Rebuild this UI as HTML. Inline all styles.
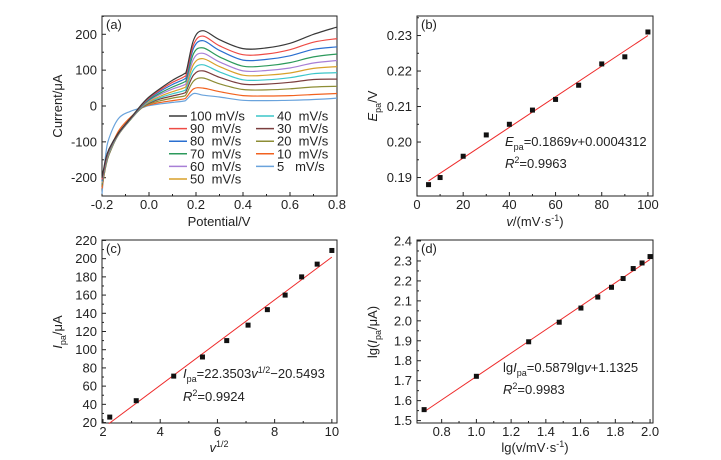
<!DOCTYPE html>
<html><head><meta charset="utf-8"><style>
html,body{margin:0;padding:0;background:#fff;}
svg{display:block;font-family:"Liberation Sans",Arial,sans-serif;}
</style></head><body>
<svg id="fig" width="721" height="460" viewBox="0 0 721 460" xmlns="http://www.w3.org/2000/svg"></svg>
<script>
// ---- Panel (a) data: CV curves ----
const cvPotentials = [-0.2,-0.185,-0.17,-0.13,-0.08,-0.03,0,0.05,0.1,0.15,0.16,0.19,0.23,0.3,0.4,0.5,0.6,0.7,0.8];
const cvLabels = ["100 mV/s","90  mV/s","80  mV/s","70  mV/s","60  mV/s","50  mV/s","40  mV/s","30  mV/s","20  mV/s","10  mV/s","5   mV/s"];
const cvColors = ["#3a3a3a","#ee4b45","#2a6fd0","#2c9a5c","#a87fd6","#d8a12a","#3cc6c9","#7b3e3e","#8d8d35","#f2621f","#6aa3dc"];
const cv100 = [-200,-150,-120,-75,-35,5,25,50,72,90,100,185,210,185,160,162,175,200,220];
const cv90  = [-205,-155,-122,-76,-36,3,22,46,66,82,92,172,195,168,143,145,157,178,188];
const cv80  = [-208,-158,-124,-77,-37,2,20,42,60,75,85,162,182,155,128,130,140,158,165];
const cv70  = [-210,-160,-126,-78,-38,0,17,37,53,67,76,147,162,137,111,112,121,137,145];
const cv60  = [-212,-162,-128,-79,-38,-1,15,33,47,59,68,132,147,123,98,99,106,120,127];
const cv50  = [-214,-164,-130,-80,-39,-2,12,28,40,51,60,117,132,110,86,86,92,105,110];
const cv40  = [-216,-166,-132,-80,-39,-3,10,24,34,43,52,102,115,95,73,73,79,90,93];
const cv30  = [-218,-168,-134,-80,-39,-4,8,20,28,36,44,87,98,80,61,61,66,74,75];
const cv20  = [-222,-172,-136,-79,-38,-5,6,15,22,28,35,70,78,62,46,45,48,53,55];
const cv10  = [-230,-170,-130,-70,-32,-5,3,10,15,20,25,48,50,40,29,28,29,32,35];
const cv5   = [-245,-140,-90,-35,-15,-5,1,6,10,14,18,35,30,25,16,15,16,18,22];
const cvSeries = [cv100,cv90,cv80,cv70,cv60,cv50,cv40,cv30,cv20,cv10,cv5];
// ---- Panel (b) ----
const scanRates = [5,10,20,30,40,50,60,70,80,90,100];
const peakPotentials = [0.188,0.190,0.196,0.202,0.205,0.209,0.212,0.216,0.222,0.224,0.231];
// ---- Panel (c) ----
const sqrtRates = [2.236,3.162,4.472,5.477,6.325,7.071,7.746,8.367,8.944,9.487,10];
const peakCurrents = [26,44,71,92,110,127,144,160,180,194,209];
// ---- Panel (d) ----
const logRates = [0.699,1.0,1.301,1.477,1.602,1.699,1.778,1.845,1.903,1.954,2.0];
const logCurrents = [1.555,1.722,1.895,1.993,2.064,2.119,2.168,2.212,2.262,2.290,2.322];
// tick labels
const ticksAx = ["-0.2","0.0","0.2","0.4","0.6","0.8"];
const ticksAy = ["-200","-100","0","100","200"];
const ticksBx = ["0","20","40","60","80","100"];
const ticksBy = ["0.19","0.20","0.21","0.22","0.23"];
const ticksCx = ["2","4","6","8","10"];
const ticksCy = ["20","40","60","80","100","120","140","160","180","200","220"];
const ticksDx = ["0.8","1.0","1.2","1.4","1.6","1.8","2.0"];
const ticksDy = ["1.5","1.6","1.7","1.8","1.9","2.0","2.1","2.2","2.3","2.4"];

const NS="http://www.w3.org/2000/svg";
const svg=document.getElementById('fig');
function mk(tag,attrs,parent){const e=document.createElementNS(NS,tag);for(const k in attrs)e.setAttribute(k,attrs[k]);(parent||svg).appendChild(e);return e;}
function lin(d0,d1,r0,r1){return v=>r0+(v-d0)*(r1-r0)/(d1-d0);}
function fit(xs,ys){const n=xs.length;let sx=0,sy=0,sxx=0,sxy=0;for(let i=0;i<n;i++){sx+=xs[i];sy+=ys[i];sxx+=xs[i]*xs[i];sxy+=xs[i]*ys[i];}const m=(n*sxy-sx*sy)/(n*sxx-sx*sx);return [m,(sy-m*sx)/n];}
function smooth(pts){
  let d='M'+pts[0][0].toFixed(1)+','+pts[0][1].toFixed(1);
  for(let i=0;i<pts.length-1;i++){
    const p0=pts[Math.max(0,i-1)],p1=pts[i],p2=pts[i+1],p3=pts[Math.min(pts.length-1,i+2)];
    const c1=[p1[0]+(p2[0]-p0[0])/6,p1[1]+(p2[1]-p0[1])/6];
    const c2=[p2[0]-(p3[0]-p1[0])/6,p2[1]-(p3[1]-p1[1])/6];
    d+=' C'+c1[0].toFixed(1)+','+c1[1].toFixed(1)+' '+c2[0].toFixed(1)+','+c2[1].toFixed(1)+' '+p2[0].toFixed(1)+','+p2[1].toFixed(1);
  }
  return d;
}

function panel(name,box,xd,yd,xt,yt,xminor,yminor){
  const g=mk('g',{});
  
  
  const X=lin(xd[0],xd[1],box.x0,box.x1), Y=lin(yd[0],yd[1],box.y1,box.y0);
  const ax=mk('g',{},g);
  
  
  mk('rect',{x:box.x0,y:box.y0,width:box.x1-box.x0,height:box.y1-box.y0,fill:'none',stroke:'#222','stroke-width':1},ax);
  xt.forEach(t=>{const v=parseFloat(t),px=X(v);
    mk('line',{x1:px,x2:px,y1:box.y1,y2:box.y1-4,stroke:'#222'},ax);
    const tx=mk('text',{x:px,y:box.y1+13,'text-anchor':'middle','font-size':13,fill:'#222'},ax);tx.textContent=t;
    
    
    const mv=v+xminor; if(mv<xd[1]){const mp=X(mv);mk('line',{x1:mp,x2:mp,y1:box.y1,y2:box.y1-2,stroke:'#222'},ax);}
  });
  yt.forEach(t=>{const v=parseFloat(t),py=Y(v);
    mk('line',{x1:box.x0,x2:box.x0+4,y1:py,y2:py,stroke:'#222'},ax);
    const tx=mk('text',{x:box.x0-5,y:py+4.5,'text-anchor':'end','font-size':13,fill:'#222'},ax);tx.textContent=t;
    
    
    const mv=v+yminor; if(mv<yd[1]){const mp=Y(mv);mk('line',{x1:box.x0,x2:box.x0+2,y1:mp,y2:mp,stroke:'#222'},ax);}
  });
  return {g,X,Y};
}
function label(parent,html,x,y,name,rot,anchor){
  const t=mk('text',{x:x,y:y,'font-size':13,fill:'#222','text-anchor':anchor||'middle'},parent);
  if(rot)t.setAttribute('transform','rotate(-90 '+x+' '+y+')');
  t.innerHTML=html;
  
  
  return t;
}
function scatterFit(p,xs,ys,x0,x1){
  const [m,b]=fit(xs,ys);
  const l=mk('line',{x1:p.X(x0),y1:p.Y(m*x0+b),x2:p.X(x1),y2:p.Y(m*x1+b),stroke:'#ee2b2b','stroke-width':1},p.g);
  
  
  xs.forEach((x,i)=>{const r=mk('rect',{x:p.X(x)-2.5,y:p.Y(ys[i])-2.5,width:5,height:5,fill:'#111'},p.g);
    
    });
}

// Panel a
const pa=panel('panel-a-cv',{x0:102,x1:337,y0:16,y1:196},[-0.2,0.8],[-251,251],ticksAx,ticksAy,0.1,50);
cvSeries.slice().reverse().forEach((s,rk)=>{
  const k=cvSeries.length-1-rk;
  const pts=s.map((v,i)=>[pa.X(cvPotentials[i]),pa.Y(v)]);
  const p=mk('path',{d:smooth(pts),fill:'none',stroke:cvColors[k],'stroke-width':1.2,'stroke-linejoin':'round'},pa.g);
  
  
});
cvLabels.forEach((lb,k)=>{
  const col=k<6?0:1,row=k<6?k:k-6;
  const lx=col?256:169, ly=116+row*12.6;
  const lg=mk('g',{},pa.g);
  
  
  mk('line',{x1:lx,x2:lx+18,y1:ly,y2:ly,stroke:cvColors[k],'stroke-width':1.5},lg);
  const t=mk('text',{x:lx+21,y:ly+4.5,'font-size':13,fill:'#222'},lg);
  t.style.whiteSpace='pre';t.textContent=lb;
});
label(pa.g,'(a)',106,29,'panel-label',false,'start');
label(pa.g,'Potential/V',219,226,'x-axis-title');
label(pa.g,'Current/μA',62,106,'y-axis-title',true);

// Panel b
const pb=panel('panel-b',{x0:417,x1:653,y0:16,y1:196},[0,102.2],[0.1848,0.2355],ticksBx,ticksBy,10,0.005);
scatterFit(pb,scanRates,peakPotentials,5,100);
label(pb.g,'(b)',421,29,'panel-label',false,'start');
label(pb.g,'<tspan font-style="italic">E</tspan><tspan font-size="9" dy="4">pa</tspan><tspan dy="-4">=0.1869</tspan><tspan font-style="italic">v</tspan>+0.0004312',505,146,'equation',false,'start');
label(pb.g,'<tspan font-style="italic">R</tspan><tspan font-size="9" dy="-5">2</tspan><tspan dy="5">=0.9963</tspan>',505,168,'r-squared',false,'start');
label(pb.g,'<tspan font-style="italic">v</tspan>/(mV·s<tspan font-size="9" dy="-5">-1</tspan><tspan dy="5">)</tspan>',535,226,'x-axis-title');
label(pb.g,'<tspan font-style="italic">E</tspan><tspan font-size="9" dy="4">pa</tspan><tspan dy="-4">/V</tspan>',377,106,'y-axis-title',true);

// Panel c
const pc=panel('panel-c',{x0:102,x1:337,y0:240,y1:423},[1.965,10.18],[19.5,220.5],ticksCx,ticksCy,1,10);
scatterFit(pc,sqrtRates,peakCurrents,2.2,10);
label(pc.g,'(c)',106,253,'panel-label',false,'start');
label(pc.g,'<tspan font-style="italic">I</tspan><tspan font-size="9" dy="4">pa</tspan><tspan dy="-4">=22.3503</tspan><tspan font-style="italic">v</tspan><tspan font-size="9" dy="-5">1/2</tspan><tspan dy="5">−20.5493</tspan>',183,378,'equation',false,'start');
label(pc.g,'<tspan font-style="italic">R</tspan><tspan font-size="9" dy="-5">2</tspan><tspan dy="5">=0.9924</tspan>',183,401,'r-squared',false,'start');
label(pc.g,'<tspan font-style="italic">v</tspan><tspan font-size="9" dy="-5">1/2</tspan>',219,452,'x-axis-title');
label(pc.g,'<tspan font-style="italic">I</tspan><tspan font-size="9" dy="4">pa</tspan><tspan dy="-4">/μA</tspan>',62,332,'y-axis-title',true);

// Panel d
const pd=panel('panel-d',{x0:417,x1:653,y0:240,y1:423},[0.658,2.017],[1.488,2.405],ticksDx,ticksDy,0.1,0.05);
scatterFit(pd,logRates,logCurrents,0.699,2.0);
label(pd.g,'(d)',421,253,'panel-label',false,'start');
label(pd.g,'lg<tspan font-style="italic">I</tspan><tspan font-size="9" dy="4">pa</tspan><tspan dy="-4">=0.5879lg</tspan><tspan font-style="italic">v</tspan>+1.1325',503,372,'equation',false,'start');
label(pd.g,'<tspan font-style="italic">R</tspan><tspan font-size="9" dy="-5">2</tspan><tspan dy="5">=0.9983</tspan>',503,394,'r-squared',false,'start');
label(pd.g,'lg(v/mV·s<tspan font-size="9" dy="-5">-1</tspan><tspan dy="5">)</tspan>',535,452,'x-axis-title');
label(pd.g,'lg(<tspan font-style="italic">I</tspan><tspan font-size="9" dy="4">pa</tspan><tspan dy="-4">/μA)</tspan>',377,332,'y-axis-title',true);
</script>
</body></html>
